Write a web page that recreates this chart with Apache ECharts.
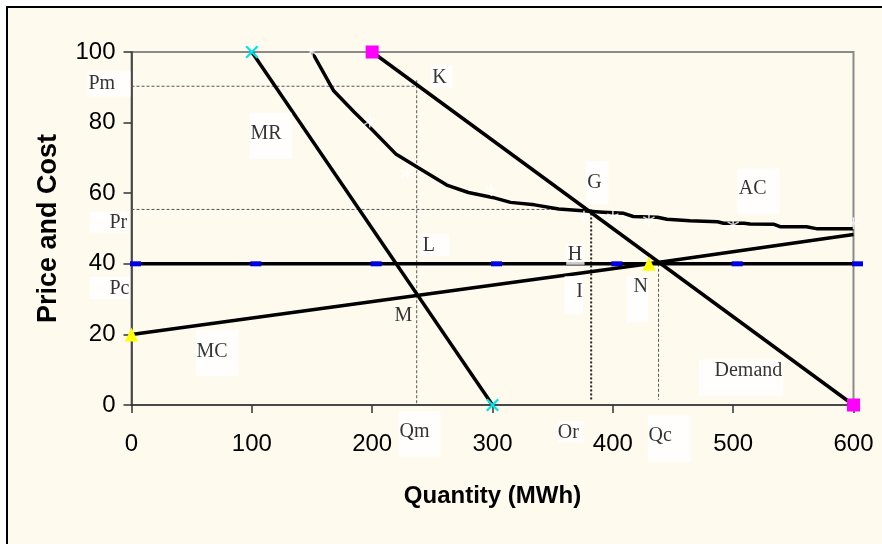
<!DOCTYPE html>
<html><head><meta charset="utf-8">
<script src="https://cdn.jsdelivr.net/npm/echarts@6/dist/echarts.min.js"></script>
<style>
html,body{margin:0;padding:0;width:882px;height:544px;overflow:hidden;background:#fff;}
#frame{position:absolute;left:6px;top:6px;width:1000px;height:1000px;border:2px solid #000;background:#fefaee;}
#chart{position:absolute;left:0;top:0;width:882px;height:544px;}
</style></head><body><div id="frame"></div><div id="chart"></div>
<script>
// ---- data ----
const xTicks = [0, 100, 200, 300, 400, 500, 600];
const yTicks = [0, 20, 40, 60, 80, 100];

const demandQ = [200, 600];
const demandP = [100, 0];
const mrQ = [100, 300];
const mrP = [100, 0];
const mcQ = [0, 430, 600];
const mcP = [20, 40, 48.3];
const compQ = [0, 100, 200, 300, 400, 500, 600];
const compP = [40, 40, 40, 40, 40, 40, 40];
const acQ = [150, 168, 185, 200, 220, 237, 250, 262, 280, 300, 315, 335, 355, 375, 392, 409, 417, 437, 445, 464, 487, 492, 509, 514, 534, 539, 561, 570, 600];
const acP = [100, 89, 83, 78, 71, 67.5, 64.8, 62.3, 60.2, 58.8, 57.4, 56.7, 55.5, 55.0, 54.6, 54.3, 53.4, 53.2, 52.6, 52.2, 51.9, 51.5, 51.5, 51.3, 51.2, 50.5, 50.5, 49.9, 49.9];
const acMarkQ = [150, 198, 229, 299, 376, 400, 430, 500, 600];
const acMarkP = [100, 80.3, 65.6, 60.9, 53.3, 53.3, 52.4, 51.0, 51.5];

const pmLineQ = [0, 237], pmLineP = [90.3, 90.3];
const qmLineQ = [237, 237], qmLineP = [92, 0];
const prLineQ = [0, 382], prLineP = [55.4, 55.4];
const orLineQ = [382, 382], orLineP = [55.4, 1.5];
const qcLineQ = [438, 438], qcLineP = [40, 1.5];

const labelText = ['Pm', 'MR', 'K', 'G', 'AC', 'Pr', 'Pc', 'MC', 'L', 'H', 'I', 'N', 'M', 'Demand', 'Qm', 'Or', 'Qc'];
const labelQ = [-36.15, 98.75, 249.47, 378.28, 503.77, -34.49, -34.49, 54.18, 241.16, 361.66, 360.25, 411.52, 218.98, 471.86, 222.3, 354.68, 429.47];
const labelP = [94.33, 82.63, 96.03, 68.92, 66.86, 54.59, 36.18, 21.25, 48.44, 45.33, 36.35, 36.35, 27.93, 12.75, -1.90, -4.73, -3.12];

// ---- styles ----
const labelPad = [[2.4,15.3,2.6,1],[11.4,10.2,14.6,0.7],[2.1,5.9,0,1],[11.4,6.9,12,1],[10.7,12.9,15.3,1.6],[0.8,0,0,20],[2.4,0,0,20],[12.4,10.9,14.3,0.3],[2.4,14.5,0,1.6],[0.3,2.3,0,1.6],[5.7,0,12.6,11.7],[0.7,0,25.3,7.3],[0,0,0,0],[1.4,1.1,14.6,15.7],[10.4,11,14.9,1],[1.4,4.6,0,0],[10.4,18.7,16.3,0.7]];
const labelBg = labelText.map(t => t === 'M' ? 'transparent' : '#ffffff');

const zip = (a, b) => a.map((v, i) => [v, b[i]]);
const sans = "'Liberation Sans', Arial, Helvetica, sans-serif";
const serif = "'Liberation Serif', 'Times New Roman', serif";
const xPath = 'path://M0,1.2L1.2,0L5,3.8L8.8,0L10,1.2L6.2,5L10,8.8L8.8,10L5,6.2L1.2,10L0,8.8L3.8,5Z';
const starPath = 'path://M4.4,0H5.6V3.9L9,1.9L9.6,2.9L6.2,5L9.6,7.1L9,8.1L5.6,6.1V10H4.4V6.1L1,8.1L0.4,7.1L3.8,5L0.4,2.9L1,1.9L4.4,3.9Z';

const dashed = (q, p, type, width, color) => ({
  type: 'line', data: zip(q, p), symbol: 'none', silent: true, z: 1,
  lineStyle: { color: color, width: width, type: type }
});

const chart = echarts.init(document.getElementById('chart'), null, { renderer: 'canvas' });
chart.setOption({
  animation: false,
  backgroundColor: 'transparent',
  grid: { left: 131.5, top: 52, width: 722, height: 353, show: true, borderColor: '#8a8a8a', borderWidth: 2, backgroundColor: 'transparent' },
  xAxis: {
    type: 'value', min: xTicks[0], max: xTicks[xTicks.length - 1], interval: xTicks[1] - xTicks[0],
    axisLine: { show: true, onZero: false, lineStyle: { color: '#333', width: 1.5 } },
    axisTick: { show: true, length: 8, lineStyle: { color: '#333', width: 1.5 } },
    axisLabel: { margin: 27, fontSize: 24, fontFamily: sans, color: '#000' },
    splitLine: { show: false },
    name: 'Quantity (MWh)', nameLocation: 'middle', nameGap: 79,
    nameTextStyle: { fontSize: 24, fontWeight: 'bold', fontFamily: sans, color: '#000' }
  },
  yAxis: {
    type: 'value', min: yTicks[0], max: yTicks[yTicks.length - 1], interval: yTicks[1] - yTicks[0],
    axisLine: { show: true, onZero: false, lineStyle: { color: '#333', width: 1.5 } },
    axisTick: { show: true, length: 8, lineStyle: { color: '#333', width: 1.5 } },
    axisLabel: { margin: 16, fontSize: 24, fontFamily: sans, color: '#000' },
    splitLine: { show: false },
    name: 'Price and Cost', nameLocation: 'middle', nameGap: 69,
    nameTextStyle: { fontSize: 27, fontWeight: 'bold', fontFamily: sans, color: '#000' }
  },
  series: [
    dashed(pmLineQ, pmLineP, [3, 2], 1, '#555'),
    dashed(qmLineQ, qmLineP, [3, 2], 1, '#555'),
    dashed(prLineQ, prLineP, [3, 2], 1, '#555'),
    dashed(orLineQ, orLineP, [2, 2], 2, '#222'),
    dashed(qcLineQ, qcLineP, [3, 2], 1, '#555'),
    {
      name: 'AC', type: 'line', data: zip(acQ, acP), symbol: 'none', z: 3,
      lineStyle: { color: '#000', width: 3.5, join: 'round' }
    },
    {
      name: 'ACmarks', type: 'scatter', data: zip(acMarkQ, acMarkP), symbol: starPath, symbolSize: 12, z: 4,
      itemStyle: { color: '#ffffff' }, clip: false
    },
    {
      name: 'P40', type: 'line', data: zip(compQ, compP), symbol: 'rect', symbolSize: [11, 5], symbolOffset: [4, 0],
      showAllSymbol: true, z: 3, itemStyle: { color: '#0000e6' }, lineStyle: { color: '#000', width: 3.5 }
    },
    {
      name: 'MC', type: 'line', z: 4,
      data: zip(mcQ, mcP).map((v, i) => ({ value: v, symbol: i < 2 ? 'triangle' : 'none' })),
      symbolSize: [13, 14], showAllSymbol: true, itemStyle: { color: '#ffff00' }, lineStyle: { color: '#000', width: 3.5 }
    },
    {
      name: 'MR', type: 'line', data: zip(mrQ, mrP), symbol: xPath, symbolSize: 13, z: 4,
      itemStyle: { color: '#00e6e6' }, lineStyle: { color: '#000', width: 3.5 }
    },
    {
      name: 'Demand', type: 'line', data: zip(demandQ, demandP), symbol: 'rect', symbolSize: 13, z: 4,
      itemStyle: { color: '#ff00ff' }, lineStyle: { color: '#000', width: 3.5 }
    },
    {
      name: 'labels', type: 'scatter', clip: false, silent: true, z: 10, symbolSize: 1,
      itemStyle: { color: 'transparent' },
      label: { show: true, position: [0, 0], align: 'left', verticalAlign: 'top', formatter: '{b}',
               fontFamily: serif, fontSize: 20, lineHeight: 20, color: '#000' },
      data: labelText.map((t, i) => ({ name: t, value: [labelQ[i], labelP[i]],
        label: { padding: labelPad[i], backgroundColor: labelBg[i] } }))
    }
  ]
});
</script></body></html>
